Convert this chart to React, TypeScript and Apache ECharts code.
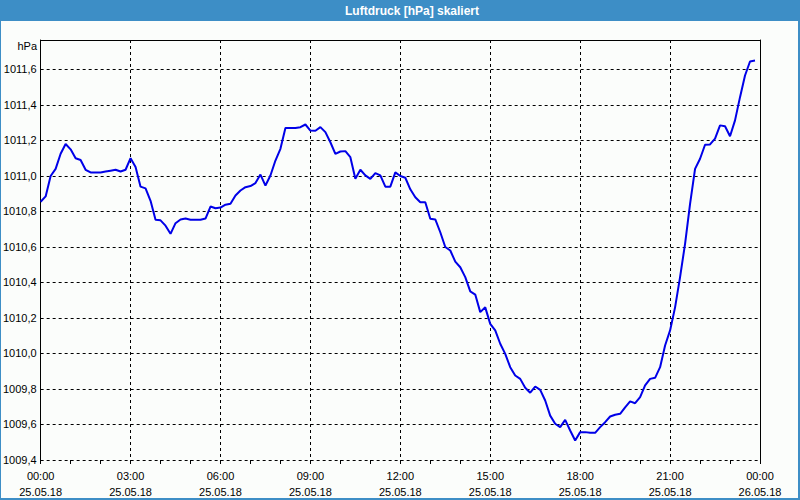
import React, { useEffect, useRef } from "react";
import * as echarts from "echarts";

const TITLE = "Luftdruck [hPa] skaliert";
const UNIT = "hPa";
const STEP_MIN = 10;
const timeLabels = ["00:00", "03:00", "06:00", "09:00", "12:00", "15:00", "18:00", "21:00", "00:00"];
const dateLabels = ["25.05.18", "25.05.18", "25.05.18", "25.05.18", "25.05.18", "25.05.18", "25.05.18", "25.05.18", "26.05.18"];
const Y_MIN = 1009.4;
const Y_MAX = 1011.766;
const Y_STEP = 0.2;

// pressure in hPa every 10 minutes from 00:00 to 23:50
const pressure = [
  1010.855, 1010.885, 1011.0, 1011.04, 1011.125, 1011.18, 1011.15, 1011.1, 1011.09, 1011.035,
  1011.02, 1011.02, 1011.02, 1011.025, 1011.03, 1011.035, 1011.025, 1011.035, 1011.1, 1011.05,
  1010.94, 1010.93, 1010.86, 1010.753, 1010.75, 1010.72, 1010.674, 1010.734, 1010.755, 1010.76,
  1010.753, 1010.753, 1010.753, 1010.76, 1010.828, 1010.818, 1010.822, 1010.838, 1010.843, 1010.89,
  1010.918, 1010.937, 1010.943, 1010.96, 1011.008, 1010.946, 1011.003, 1011.087, 1011.153, 1011.27,
  1011.27, 1011.27, 1011.275, 1011.29, 1011.256, 1011.255, 1011.275, 1011.247, 1011.19, 1011.125,
  1011.138, 1011.14, 1011.106, 1010.984, 1011.035, 1011.003, 1010.984, 1011.016, 1011.003, 1010.94,
  1010.94, 1011.02, 1011.0, 1010.99, 1010.925, 1010.88, 1010.852, 1010.852, 1010.759, 1010.755,
  1010.683, 1010.6, 1010.58, 1010.518, 1010.486, 1010.43, 1010.35, 1010.332, 1010.233, 1010.26,
  1010.167, 1010.13, 1010.055, 1009.998, 1009.923, 1009.876, 1009.857, 1009.807, 1009.779, 1009.814,
  1009.795, 1009.735, 1009.65, 1009.604, 1009.585, 1009.626, 1009.566, 1009.51, 1009.557, 1009.557,
  1009.553, 1009.553, 1009.585, 1009.613, 1009.645, 1009.655, 1009.66, 1009.697, 1009.73, 1009.72,
  1009.754, 1009.82, 1009.857, 1009.863, 1009.923, 1010.045, 1010.13, 1010.26, 1010.43, 1010.618,
  1010.843, 1011.04, 1011.097, 1011.176, 1011.178, 1011.21, 1011.285, 1011.28, 1011.224, 1011.313,
  1011.444, 1011.566, 1011.645, 1011.65,
];

const FONT = "Liberation Sans";
const BG = "#fbfdfb";
const FRAME = "#3d8ec6";

export default function App() {
  const ref = useRef<HTMLDivElement>(null);
  useEffect(() => {
    if (!ref.current) return;
    const chart = echarts.init(ref.current, null, { renderer: "svg" });
    const data = pressure.map((v, i) => [i * STEP_MIN, v]);
    chart.setOption({
      animation: false,
      backgroundColor: BG,
      textStyle: { fontFamily: FONT },
      graphic: [
        { type: "rect", shape: { x: 0, y: 0, width: 800, height: 21 }, style: { fill: FRAME }, z: 0 },
        { type: "rect", shape: { x: 0, y: 0, width: 1, height: 500 }, style: { fill: FRAME } },
        { type: "rect", shape: { x: 798, y: 0, width: 2, height: 500 }, style: { fill: FRAME } },
        { type: "rect", shape: { x: 0, y: 498, width: 800, height: 2 }, style: { fill: FRAME } },
        {
          type: "text",
          x: 412,
          y: 11,
          style: {
            text: TITLE,
            fill: "#ffffff",
            font: `bold 12px "${FONT}"`,
            textAlign: "center",
            textVerticalAlign: "middle",
          },
        },
        {
          type: "text",
          x: 37,
          y: 46,
          style: {
            text: UNIT,
            fill: "#000000",
            font: `11px "${FONT}"`,
            textAlign: "right",
            textVerticalAlign: "middle",
          },
        },
      ],
      grid: { left: 40, top: 40, width: 720, height: 420, show: false },
      xAxis: [
        {
          type: "value",
          min: 0,
          max: 1440,
          interval: 180,
          axisLine: { show: false },
          axisTick: { show: true, length: 4, lineStyle: { color: "#000" } },
          minorTick: { show: true, splitNumber: 3, length: 4, lineStyle: { color: "#000" } },
          axisLabel: {
            margin: 8,
            fontSize: 11,
            lineHeight: 16,
            color: "#000",
            fontFamily: FONT,
            showMinLabel: true,
            showMaxLabel: true,
            formatter: (v: number) => {
              const i = Math.round(v / 180);
              return `${timeLabels[i]}\n${dateLabels[i]}`;
            },
          },
          splitLine: {
            show: true,
            showMinLine: false,
            showMaxLine: false,
            lineStyle: { color: "#000", type: [3, 3], width: 1 },
          },
        },
        {
          type: "value",
          position: "top",
          min: 0,
          max: 1440,
          interval: 180,
          axisLine: { show: true, onZero: false, lineStyle: { color: "#000", width: 1 } },
          axisTick: { show: false },
          axisLabel: { show: false },
          splitLine: { show: false },
        },
      ],
      yAxis: [
        {
          type: "value",
          min: Y_MIN,
          max: Y_MAX,
          interval: Y_STEP,
          axisLine: { show: true, onZero: false, lineStyle: { color: "#000", width: 1 } },
          axisTick: { show: false },
          axisLabel: {
            margin: 4,
            fontSize: 11,
            color: "#000",
            fontFamily: FONT,
            showMaxLabel: false,
            formatter: (v: number) => v.toFixed(1).replace(".", ","),
          },
          splitLine: {
            show: true,
            showMaxLine: false,
            lineStyle: { color: "#000", type: [3, 3], width: 1 },
          },
        },
        {
          type: "value",
          position: "right",
          min: Y_MIN,
          max: Y_MAX,
          interval: Y_STEP,
          axisLine: { show: true, onZero: false, lineStyle: { color: "#000", width: 1 } },
          axisTick: { show: false },
          axisLabel: { show: false },
          splitLine: { show: false },
        },
      ],
      series: [
        {
          type: "line",
          xAxisIndex: 0,
          yAxisIndex: 0,
          data,
          showSymbol: false,
          symbol: "none",
          lineStyle: { color: "#0000e8", width: 2 },
          z: 5,
        },
      ],
    });
    return () => chart.dispose();
  }, []);
  return (
    <div
      ref={ref}
      style={{ position: "fixed", left: 0, top: 0, width: 800, height: 500 }}
    />
  );
}
